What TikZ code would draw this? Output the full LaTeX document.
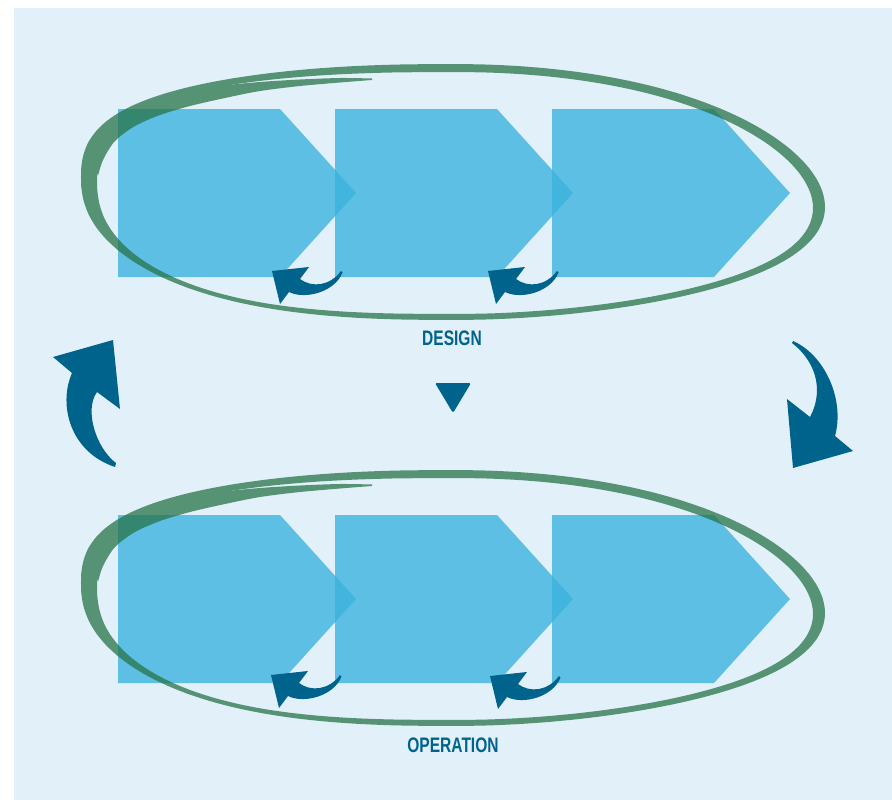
\documentclass[tikz,border=0pt]{standalone}
\usepackage{fontspec}
\newfontfamily\condfont[FakeStretch=0.74]{Liberation Sans}
\definecolor{bgc}{RGB}{226,240,250}
\definecolor{chev}{RGB}{60,179,222}
\definecolor{grn}{RGB}{40,115,72}
\definecolor{dblue}{RGB}{0,99,139}
\begin{document}
\begin{tikzpicture}[x=1pt,y=-1pt,
  chevstyle/.style={fill=chev, fill opacity=0.8},
  arrowfill/.style={fill=dblue},
  lbl/.style={font=\condfont\bfseries\fontsize{21}{21}\selectfont, text=dblue, inner sep=0pt}]
\useasboundingbox (0,0) rectangle (892,800);
\fill[bgc] (14,8) rectangle (892,800);
% chevrons
\foreach \y in {109,515}{
  \foreach \x in {118,335,552}{
    \fill[chevstyle] (\x,\y) -- ++(162,0) -- ++(76,84) -- ++(-76,84) -- ++(-162,0) -- cycle;
  }
}
% green hand-drawn loops
\foreach \dy in {0,406}{
\begin{scope}[shift={(0,\dy)}]
\begin{scope}[transparency group, opacity=0.75]
\fill[grn, even odd rule]
  plot[domain=-89:89, samples=40, smooth] ({453+372*cos(\x)}, {192+128*sin(\x)+15*cos(\x)^3})
  -- plot[domain=91:269, samples=36, smooth] ({453-372*pow(-cos(\x),0.833)}, {192+128*sin(\x)*pow(abs(sin(\x)),-0.167)+15*cos(\x)*cos(\x)*cos(\x)})
  -- cycle
  plot[domain=-89:89, samples=40, smooth] ({455+358*cos(\x)}, {193+121*sin(\x)+15*cos(\x)^3})
  -- plot[domain=91:269, samples=36, smooth] ({455-358*pow(-cos(\x),0.77)}, {193+121*sin(\x)*pow(abs(sin(\x)),-0.23)+15*cos(\x)*cos(\x)*cos(\x)})
  -- cycle;
\fill[grn]
  plot[smooth] coordinates {(372,80) (340,82.5) (300,86) (260,91) (225,98) (190,106) (160,115) (135,126) (115,141) (103,160) (98,176)}
  -- plot[smooth] coordinates {(93,160) (100,140) (115,120) (140,105) (180,93) (220,86) (260,82) (300,79.5) (340,78) (372,78.5)}
  -- cycle;
\end{scope}
\end{scope}
}
% small return arrows
\foreach \dx/\dy in {0/0, 216/0, -1/404, 218/405}{
\begin{scope}[shift={(\dx,\dy)}]
\fill[arrowfill] (272,271) -- (309,267) -- (300,279) .. controls (312,288) and (330,286) .. (341,271) -- (342.5,272.5) .. controls (335,292) and (305,300) .. (289,292) -- (280,304) -- cycle;
\end{scope}
}
% big left arrow
\fill[arrowfill] (113,340) -- (120,409) -- (97,392) .. controls (84,410) and (96,448) .. (116,463) -- (115,467) .. controls (70,452) and (58,405) .. (72,373) -- (53,357) -- cycle;
% big right arrow
\fill[arrowfill] (793,468) -- (787,399) -- (810,417) .. controls (822,395) and (820,365) .. (792,343) -- (793,341) .. controls (825,355) and (845,400) .. (835,436) -- (853,451) -- cycle;
% middle triangle
\fill[arrowfill, rounded corners=1.5pt] (435,383) -- (471,383) -- (453,413) -- cycle;
% labels
\node[lbl] (design) at (452,338) {DESIGN};
\node[lbl] (operation) at (453,745.5) {OPERATION};
\end{tikzpicture}
\end{document}
